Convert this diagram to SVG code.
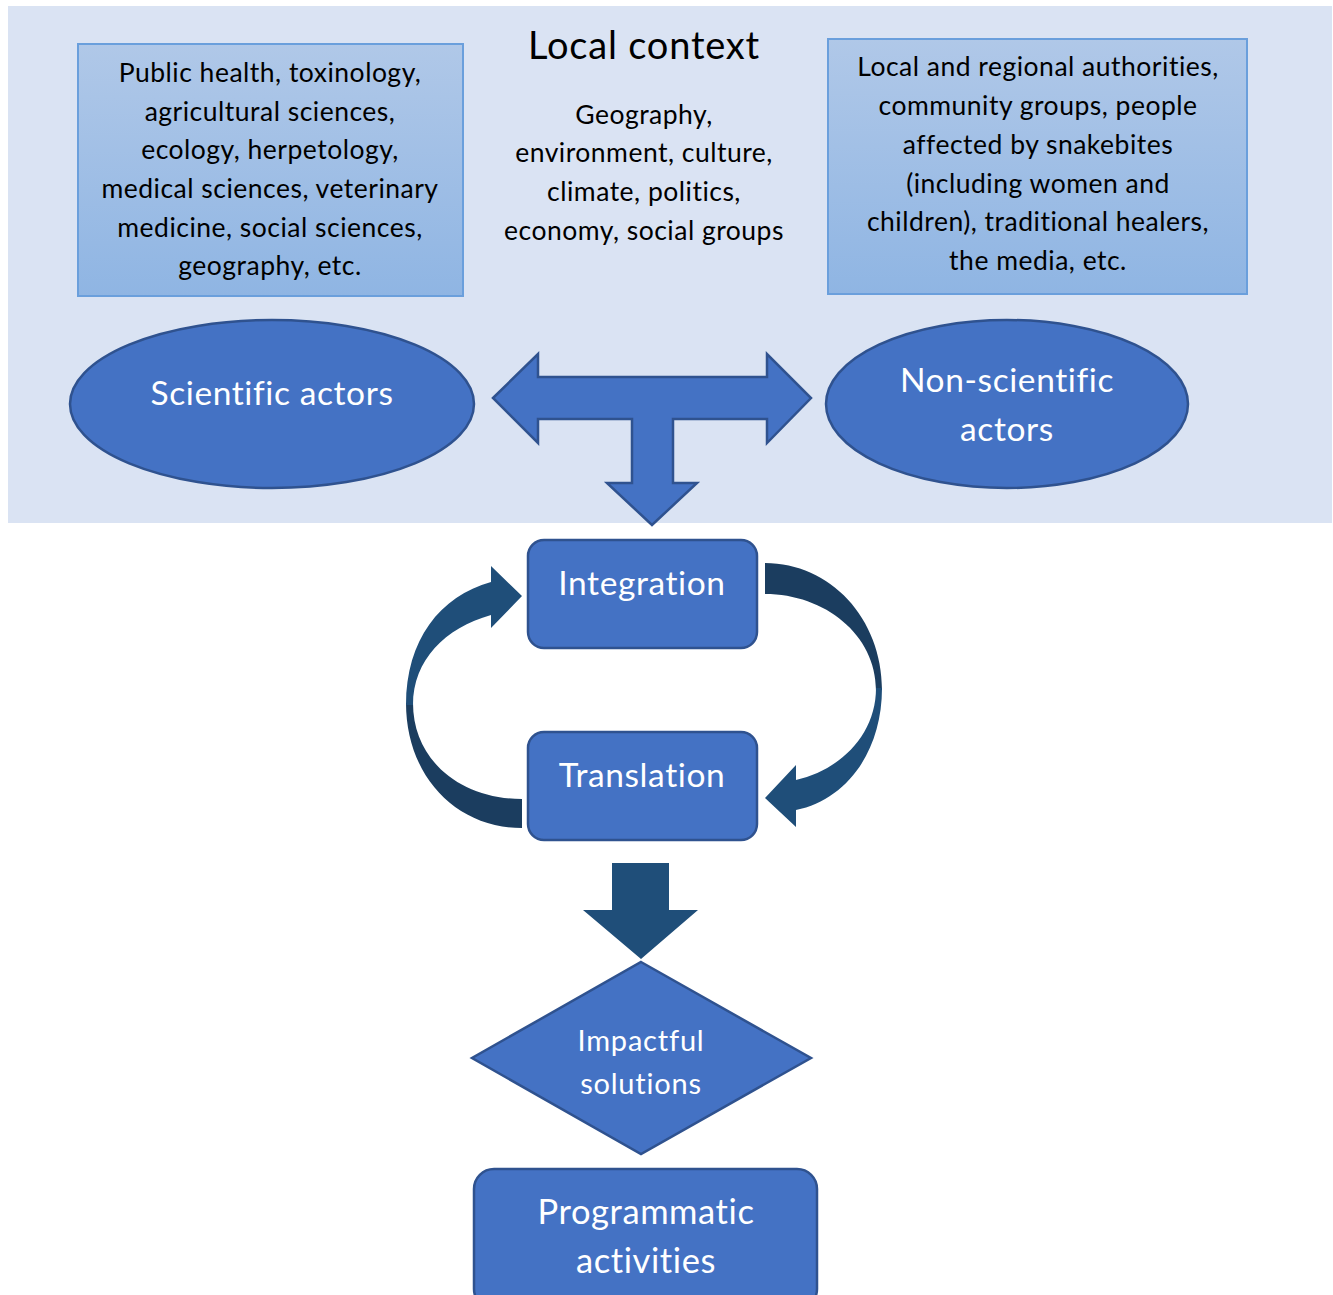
<svg xmlns="http://www.w3.org/2000/svg" width="1333" height="1295" viewBox="0 0 1333 1295">
<defs>
<linearGradient id="boxGrad" x1="0" y1="0" x2="0" y2="1">
<stop offset="0" stop-color="#b0c8e8"/>
<stop offset="1" stop-color="#8fb5e3"/>
</linearGradient>
<style>
.panel{fill:#dae3f3;}
.infobox{fill:url(#boxGrad);stroke:#6a9fdc;stroke-width:2;}
.shape{fill:#4472c4;stroke:#2f528f;stroke-width:2.5;}
.dark{fill:#1f4e79;}
.darker{fill:#1b3d5f;}
.t{font-family:Lato,"Open Sans","Liberation Sans",sans-serif;text-anchor:middle;font-variant-ligatures:none;}
.blk{fill:#000;font-size:26.5px;letter-spacing:0.5px;}
.wht{fill:#fff;}
.big{font-size:33.5px;letter-spacing:0.6px;}
</style>
</defs>
<rect width="1333" height="1295" fill="#fff"/>
<rect class="panel" x="8" y="6" width="1324" height="517"/>

<g id="local-context">
<text class="t" x="644" y="59" font-size="38" letter-spacing="0.8" fill="#000">Local context</text>
<text class="t blk" x="644" y="124">Geography,</text>
<text class="t blk" x="644" y="162">environment, culture,</text>
<text class="t blk" x="644" y="201">climate, politics,</text>
<text class="t blk" x="644" y="240">economy, social groups</text>
</g>

<g id="scientific-fields">
<rect class="infobox" x="78" y="44" width="385" height="252"/>
<text class="t blk" x="270" y="82">Public health, toxinology,</text>
<text class="t blk" x="270" y="121">agricultural sciences,</text>
<text class="t blk" x="270" y="159">ecology, herpetology,</text>
<text class="t blk" x="270" y="198">medical sciences, veterinary</text>
<text class="t blk" x="270" y="237">medicine, social sciences,</text>
<text class="t blk" x="270" y="275">geography, etc.</text>
</g>

<g id="non-scientific-groups">
<rect class="infobox" x="828" y="39" width="419" height="255"/>
<text class="t blk" x="1038" y="76">Local and regional authorities,</text>
<text class="t blk" x="1038" y="115">community groups, people</text>
<text class="t blk" x="1038" y="154">affected by snakebites</text>
<text class="t blk" x="1038" y="193">(including women and</text>
<text class="t blk" x="1038" y="231">children), traditional healers,</text>
<text class="t blk" x="1038" y="270">the media, etc.</text>
</g>

<g id="scientific-actors">
<ellipse class="shape" cx="272" cy="404" rx="202" ry="84"/>
<text class="t wht big" x="272" y="405">Scientific actors</text>
</g>

<g id="non-scientific-actors">
<ellipse class="shape" cx="1007" cy="404" rx="181" ry="84"/>
<text class="t wht big" x="1007" y="392">Non-scientific</text>
<text class="t wht big" x="1007" y="441">actors</text>
</g>

<g id="integration">
<rect class="shape" x="528" y="540" width="229" height="108" rx="16"/>
<text class="t wht big" x="642" y="595">Integration</text>
</g>

<g id="translation">
<rect class="shape" x="528" y="732" width="229" height="108" rx="16"/>
<text class="t wht big" x="642" y="787">Translation</text>
</g>

<g id="impactful-solutions">
<polygon class="shape" points="641,962 811,1058 641,1154 472,1058"/>
<text class="t wht" x="641" y="1051" font-size="29" letter-spacing="0.8">Impactful</text>
<text class="t wht" x="641" y="1094" font-size="29" letter-spacing="0.8">solutions</text>
</g>

<g id="programmatic-activities">
<rect class="shape" x="474" y="1169" width="343" height="140" rx="20"/>
<text class="t wht" x="646" y="1224" font-size="34.5" letter-spacing="0.6">Programmatic</text>
<text class="t wht" x="646" y="1273" font-size="34.5" letter-spacing="0.6">activities</text>
</g>

<g id="connectors">
<polygon class="shape" points="493,398 538,354 538,377 767,377 767,354 811,398 767,443 767,419 673,419 673,483 697,483 652,525 607,483 632,483 632,419 538,419 538,443"/>
<path class="darker" d="M522,828 C455,828 406,775 406,703 L413,703 C413,760 460,799 522,799 Z"/>
<path class="dark" d="M406,705 C406,640 440,596 491,582 L491,566 L522,596 L491,628 L491,615 C445,628 413,660 413,705 Z"/>
<path class="darker" d="M765,563 C830,563 882,618 882,690 L876,690 C876,635 825,594 765,594 Z"/>
<path class="dark" d="M882,688 C882,752 846,800 796,810 L796,827 L765,798 L796,765 L796,780 C840,770 876,735 876,688 Z"/>
<polygon class="dark" points="612,863 669,863 669,910 698,910 641,959 583,910 612,910"/>
</g>
</svg>
